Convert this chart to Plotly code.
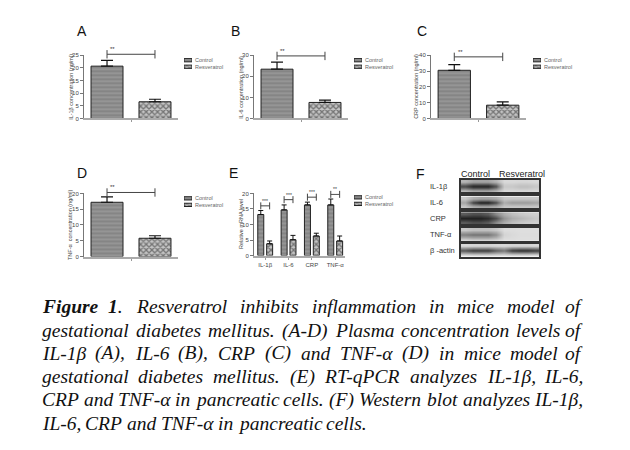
import plotly.graph_objects as go

W, H = 630, 450

groups = ['Control', 'Resveratrol']

# A-D: plasma concentration (ng/ml), mean and upper error
il1b_mean = [20.7, 6.6]
il1b_err = [2.3, 1.0]
il6_mean = [23.4, 7.6]
il6_err = [3.4, 1.1]
crp_mean = [30.5, 8.4]
crp_err = [3.6, 2.1]
tnf_mean = [17.2, 5.8]
tnf_err = [1.7, 0.8]
sig_level = [25.4, 29.7, 39.0, 20.3]

# E: relative mRNA level
genes = ['IL-1β', 'IL-6', 'CRP', 'TNF-α']
mrna_control = [13.2, 14.7, 16.3, 16.3]
mrna_control_err = [1.3, 1.6, 0.9, 1.9]
mrna_resv = [3.8, 5.1, 6.3, 4.7]
mrna_resv_err = [0.9, 1.4, 0.9, 1.6]
mrna_sig = [16.0, 18.0, 18.8, 19.7]
mrna_stars = ['***', '***', '***', '**']

# F: western blot band darkness (rows: lower edge, centre, upper edge)
blot_labels = ['IL-1β', 'IL-6', 'CRP', 'TNF-α', 'β -actin']
blot_il1b = [[0.25, 0.35, 0.35, 0.35, 0.25, 0.05, 0.05, 0.06, 0.06, 0.05],
             [0.80, 0.95, 0.95, 0.95, 0.75, 0.15, 0.15, 0.20, 0.20, 0.15],
             [0.25, 0.35, 0.35, 0.35, 0.25, 0.05, 0.05, 0.06, 0.06, 0.05]]
blot_il6 = [[0.15, 0.30, 0.35, 0.35, 0.30, 0.15, 0.15, 0.15, 0.15, 0.15],
            [0.35, 0.80, 0.95, 0.95, 0.75, 0.30, 0.40, 0.40, 0.40, 0.35],
            [0.15, 0.30, 0.35, 0.35, 0.30, 0.15, 0.15, 0.15, 0.15, 0.15]]
blot_crp = [[0.70, 0.75, 0.75, 0.70, 0.50, 0.30, 0.20, 0.15, 0.12, 0.10],
            [0.95, 0.95, 0.95, 0.90, 0.75, 0.45, 0.30, 0.25, 0.20, 0.15],
            [0.70, 0.75, 0.75, 0.70, 0.50, 0.30, 0.20, 0.15, 0.12, 0.10]]
blot_tnf = [[0.15, 0.20, 0.20, 0.20, 0.15, 0.03, 0.03, 0.02, 0.02, 0.02],
            [0.55, 0.60, 0.60, 0.60, 0.45, 0.08, 0.05, 0.03, 0.03, 0.03],
            [0.15, 0.20, 0.20, 0.20, 0.15, 0.03, 0.03, 0.02, 0.02, 0.02]]
blot_actin = [[0.05, 0.08, 0.08, 0.08, 0.06, 0.05, 0.08, 0.08, 0.08, 0.06],
              [0.75, 0.85, 0.85, 0.85, 0.70, 0.60, 0.85, 0.90, 0.90, 0.85],
              [0.05, 0.08, 0.08, 0.08, 0.06, 0.05, 0.08, 0.08, 0.08, 0.06]]
blots = [blot_il1b, blot_il6, blot_crp, blot_tnf, blot_actin]

caption_lines = [
    'Figure 1. Resveratrol inhibits inflammation in mice model of',
    'gestational diabetes mellitus. (A-D) Plasma concentration levels of',
    'IL-1β (A), IL-6 (B), CRP (C) and TNF-α (D) in mice model of',
    'gestational diabetes mellitus. (E) RT-qPCR analyzes IL-1β, IL-6,',
    'CRP and TNF-α in pancreatic cells. (F) Western blot analyzes IL-1β,',
    'IL-6, CRP and TNF-α in pancreatic cells.',
]


def xd(a, b):
    return [a / W, b / W]


def yd(top, bottom):
    return [1 - bottom / H, 1 - top / H]


def px(x):
    return x / W


def py(y):
    return 1 - y / H


def note(x, y, text, size, color='#222', family='Liberation Sans', xanchor='center', **kw):
    return dict(x=px(x), y=py(y), xref='paper', yref='paper', text=text,
                xanchor=xanchor, yanchor='middle', showarrow=False, borderpad=0,
                borderwidth=0, font=dict(family=family, size=size, color=color), **kw)


ctrl_marker = dict(color='#888', line=dict(color='#222', width=1),
                   pattern=dict(shape='-', bgcolor='#858585', fgcolor='#b0b0b0',
                                size=4, solidity=0.35))
resv_marker = dict(color='#666', line=dict(color='#222', width=1),
                   pattern=dict(shape='x', bgcolor='#c4c4c4', fgcolor='#262626',
                                size=4, solidity=0.55))
small = dict(family='Liberation Sans', size=6, color='#444')
sig_line = dict(color='#444', width=1)

fig = go.Figure()
layout = {}
annotations = []

# ---- panels A-D
panels = [
    ('A', il1b_mean, il1b_err, 25, 5, 'IL-1β concentration (ng/ml)', (84, 178), (53, 117), 71, (82, 28)),
    ('B', il6_mean, il6_err, 30, 10, 'IL-6 concentration (ng/ml)', (254, 348), (53, 117), 241, (235, 28)),
    ('C', crp_mean, crp_err, 40, 10, 'CRP concentration (ng/ml)', (431, 526), (53, 117), 416, (422, 28)),
    ('D', tnf_mean, tnf_err, 20, 5, 'TNF-α  concentration (ng/ml)', (84, 178), (193, 257), 70, (82, 172)),
]
EXTRA = 14  # px of headroom on the hidden axis that carries the significance bars
for i, (letter, mean, err, ymax, dt, ytitle, xdp, ydp, tx, lpos) in enumerate(panels):
    n = i + 1
    xa, ya, ys = 'x%d' % n, 'y%d' % n, 'y%d' % (20 + n)
    for j, mk in enumerate([ctrl_marker, resv_marker]):
        fig.add_trace(go.Bar(
            x=[j], y=[mean[j]], width=0.667, marker=mk, xaxis=xa, yaxis=ya,
            error_y=dict(type='data', symmetric=False, array=[err[j]], arrayminus=[0],
                         color='#111', thickness=1.2, width=6),
            showlegend=False))
    fig.add_trace(go.Scatter(
        x=[0, 1], y=[sig_level[i]] * 2, mode='lines+markers', xaxis=xa, yaxis=ys,
        line=sig_line, marker=dict(symbol='line-ns', size=6, line=sig_line),
        showlegend=False))
    annotations.append(dict(x=0.12, y=sig_level[i], xref=xa, yref=ys, text='**',
                            xanchor='center', yanchor='bottom', showarrow=False,
                            font=dict(size=6, color='#333')))
    span = ydp[1] - ydp[0]
    layout['xaxis%d' % n] = dict(domain=xd(*xdp), range=[-0.48, 1.48], anchor=ya,
                                 showline=True, linecolor='#aaa', linewidth=2,
                                 tickvals=[0.5], ticktext=[''], ticks='outside',
                                 ticklen=2, tickcolor='#999', showgrid=False,
                                 zeroline=False)
    layout['yaxis%d' % n] = dict(domain=yd(*ydp), range=[0, ymax], dtick=dt, anchor=xa,
                                 showline=True, linecolor='#777', linewidth=1,
                                 ticks='outside', ticklen=3, tickcolor='#777',
                                 tickfont=small, showgrid=False, zeroline=False)
    layout['yaxis%d' % (20 + n)] = dict(domain=yd(ydp[0] - EXTRA, ydp[1]),
                                        range=[0, ymax * (span + EXTRA) / span],
                                        anchor=xa, visible=False)
    annotations.append(note(tx, (ydp[0] + ydp[1]) / 2, ytitle, 5.5, '#444', textangle=-90))
    annotations.append(note(lpos[0], lpos[1], letter, 14, '#111'))

# ---- panel E
xa, ya = 'x5', 'y5'
fig.add_trace(go.Bar(
    x=list(range(4)), y=mrna_control, width=0.257, offset=-0.318, marker=ctrl_marker,
    xaxis=xa, yaxis=ya, showlegend=False,
    error_y=dict(type='data', symmetric=False, array=mrna_control_err,
                 arrayminus=[0] * 4, color='#111', thickness=1, width=2.5)))
fig.add_trace(go.Bar(
    x=list(range(4)), y=mrna_resv, width=0.257, offset=0.062, marker=resv_marker,
    xaxis=xa, yaxis=ya, showlegend=False,
    error_y=dict(type='data', symmetric=False, array=mrna_resv_err,
                 arrayminus=[0] * 4, color='#111', thickness=1, width=2.5)))
sx, sy = [], []
for g, lvl in enumerate(mrna_sig):
    sx += [g - 0.19, g + 0.19, None]
    sy += [lvl, lvl, None]
    annotations.append(dict(x=g, y=lvl, xref=xa, yref=ya, text=mrna_stars[g],
                            xanchor='center', yanchor='bottom', showarrow=False,
                            font=dict(size=5, color='#333')))
fig.add_trace(go.Scatter(
    x=sx, y=sy, mode='lines+markers', xaxis=xa, yaxis=ya, cliponaxis=False,
    line=sig_line, marker=dict(symbol='line-ns', size=5, line=sig_line),
    showlegend=False))
layout['xaxis5'] = dict(domain=xd(254, 345), range=[-0.48, 3.42], anchor=ya,
                        showline=True, linecolor='#aaa', linewidth=2,
                        tickvals=list(range(4)), ticktext=genes, ticks='outside',
                        ticklen=2, tickcolor='#999', tickfont=small,
                        showgrid=False, zeroline=False)
layout['yaxis5'] = dict(domain=yd(193, 256), range=[0, 20], dtick=5, anchor=xa,
                        showline=True, linecolor='#777', linewidth=1,
                        ticks='outside', ticklen=3, tickcolor='#777',
                        tickfont=small, showgrid=False, zeroline=False)
annotations.append(note(241, 224, 'Relative mRNA level', 5.5, '#444', textangle=-90))
annotations.append(note(233, 172, 'E', 14, '#111'))

# ---- small legends beside A-E
legend_spots = [(184, 58), (354, 58), (533, 58), (184, 198), (354, 197)]
for k, (lx, ly) in enumerate(legend_spots):
    n = 6 + k
    xa, ya = 'x%d' % n, 'y%d' % n
    for j, mk in enumerate([ctrl_marker, resv_marker]):
        fig.add_trace(go.Bar(x=[1], y=[j], orientation='h', width=0.5, marker=mk,
                             xaxis=xa, yaxis=ya, showlegend=False, hoverinfo='skip'))
        annotations.append(note(lx + 11, ly + 6.6 * j, groups[j], 5.5, '#666',
                                xanchor='left'))
    layout['xaxis%d' % n] = dict(domain=xd(lx, lx + 8), range=[0, 1], visible=False,
                                 anchor=ya)
    layout['yaxis%d' % n] = dict(domain=yd(ly - 3.3, ly + 9.9), range=[1.5, -0.5],
                                 visible=False, anchor=xa)

# ---- panel F, western blot
blot_rows = [(179, 192), (196, 208), (212, 224), (228, 241), (244, 257)]
for k, (z, (top, bot)) in enumerate(zip(blots, blot_rows)):
    n = 11 + k
    xa, ya = 'x%d' % n, 'y%d' % n
    fig.add_trace(go.Heatmap(z=z, xaxis=xa, yaxis=ya, zmin=0, zmax=1, zsmooth='best',
                             colorscale=[[0, '#e2e2e2'], [0.5, '#8a8a8a'], [1, '#141414']],
                             showscale=False, hoverinfo='skip'))
    layout['xaxis%d' % n] = dict(domain=xd(461, 539), range=[-0.5, 9.5], anchor=ya,
                                 showline=True, mirror=True, linecolor='#333',
                                 linewidth=1.5, showticklabels=False, ticks='',
                                 showgrid=False, zeroline=False)
    layout['yaxis%d' % n] = dict(domain=yd(top, bot), range=[-0.5, 2.5], anchor=xa,
                                 showline=True, mirror=True, linecolor='#333',
                                 linewidth=1.5, showticklabels=False, ticks='',
                                 showgrid=False, zeroline=False)
    annotations.append(note(430, (top + bot) / 2, blot_labels[k], 7.5, '#333',
                            xanchor='left'))
for j, cx in enumerate([475, 522]):
    annotations.append(note(cx, 173, groups[j], 9, '#222'))
annotations.append(note(420, 173, 'F', 14, '#111'))

# ---- caption: justified by spreading words with Times-italic advance widths
TI = {' ': 250, 'a': 500, 'b': 500, 'c': 444, 'd': 500, 'e': 444, 'f': 278, 'g': 500,
      'h': 500, 'i': 278, 'k': 444, 'l': 278, 'm': 722, 'n': 500, 'o': 500, 'p': 500,
      'q': 500, 'r': 389, 's': 389, 't': 278, 'u': 500, 'v': 444, 'w': 667, 'x': 444,
      'y': 444, 'z': 389, 'A': 611, 'B': 611, 'C': 667, 'D': 722, 'E': 611, 'F': 611,
      'I': 333, 'L': 556, 'N': 667, 'P': 611, 'R': 611, 'T': 556, 'W': 833, '(': 333,
      ')': 333, ',': 250, '.': 250, '-': 333, '1': 500, '6': 500, 'β': 500, 'α': 500}
CAP_SIZE = 19.5
CAP_L, CAP_R = 42, 583
cap_y = [308, 332, 355, 379, 402, 426]


def word_w(w, size):
    return sum(TI.get(c, 500) for c in w) * size / 1000.0


def fmt(w):
    if w == 'Figure':
        return '<b><i>Figure</i></b>'
    if w == '1.':
        return '<b><i>1</i></b><i>.</i>'
    return '<i>%s</i>' % w


for li, (line, y) in enumerate(zip(caption_lines, cap_y)):
    words = line.split(' ')
    last = li == len(caption_lines) - 1
    if last:
        gap = TI[' '] * CAP_SIZE / 1000.0
    else:
        gap = (CAP_R - CAP_L - sum(word_w(w, CAP_SIZE) for w in words)) / (len(words) - 1)
    x = CAP_L
    for wi, w in enumerate(words):
        if not last and wi == len(words) - 1:
            annotations.append(note(CAP_R, y, fmt(w), CAP_SIZE, '#111',
                                    'Liberation Serif', xanchor='right'))
        else:
            annotations.append(note(x, y, fmt(w), CAP_SIZE, '#111',
                                    'Liberation Serif', xanchor='left'))
        x += word_w(w, CAP_SIZE) + gap

fig.update_layout(
    width=W, height=H, margin=dict(l=0, r=0, t=0, b=0),
    paper_bgcolor='white', plot_bgcolor='rgba(0,0,0,0)',
    barmode='overlay', showlegend=False, annotations=annotations,
    font=dict(family='Liberation Sans'),
    **layout)

fig.write_html("out.html", config={'displayModeBar': False},
               post_script="document.body.style.margin='0px';")
